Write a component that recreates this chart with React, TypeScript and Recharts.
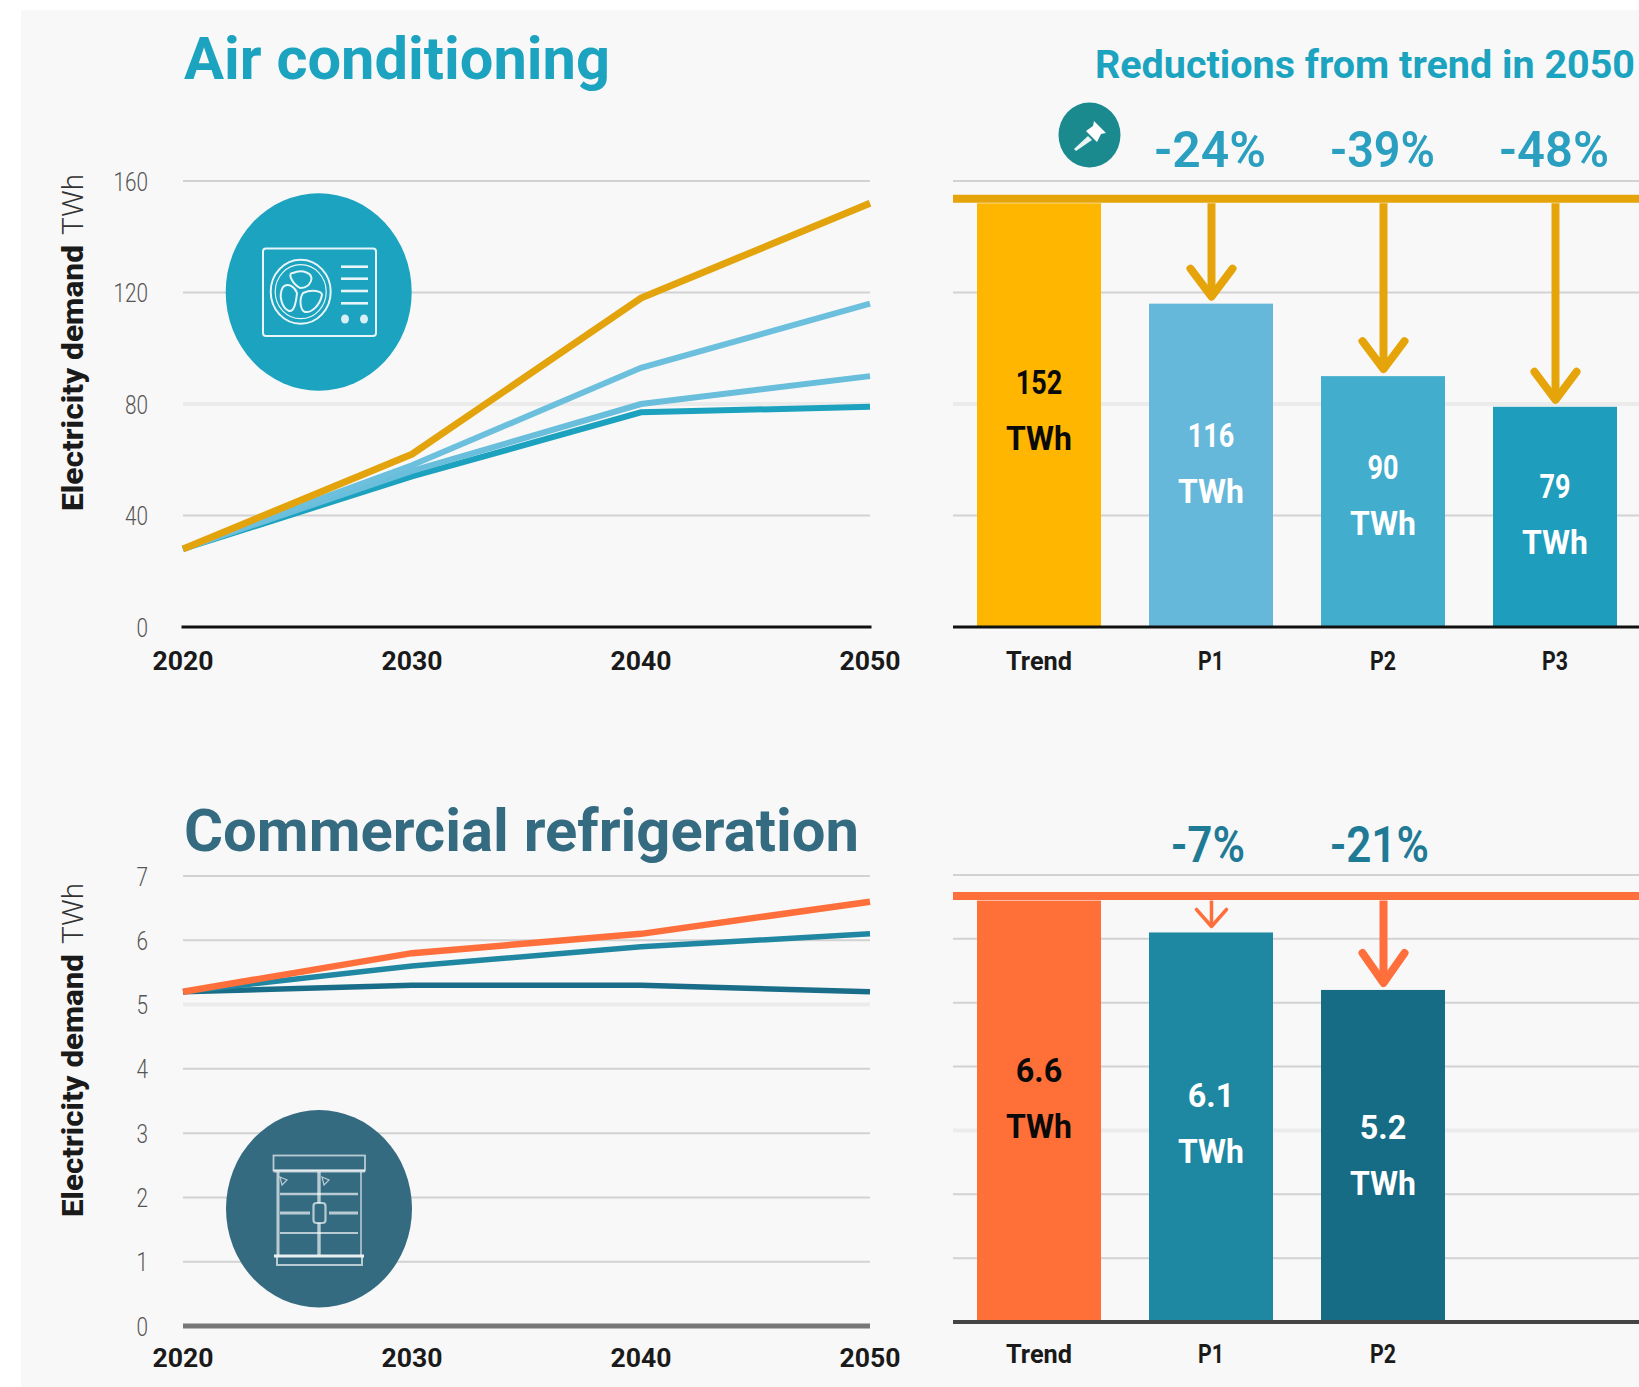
import React from 'react';
import { LineChart, Line, BarChart, Bar, XAxis, YAxis, CartesianGrid, ReferenceLine, LabelList } from 'recharts';

// ---------- data ----------
const years = [2020, 2030, 2040, 2050];
const acTrend = [28, 62, 118, 152];
const acP1 = [28, 58, 93, 116];
const acP2 = [28, 56, 80, 90];
const acP3 = [28, 54, 77, 79];
const acTicks = [0, 40, 80, 120, 160];

const frTrend = [5.2, 5.8, 6.1, 6.6];
const frP1 = [5.2, 5.6, 5.9, 6.1];
const frP2 = [5.2, 5.3, 5.3, 5.2];
const frTicks = [0, 1, 2, 3, 4, 5, 6, 7];

const acCategories = ['Trend', 'P1', 'P2', 'P3'];
const acBars = [152, 116, 90, 79];
const frCategories = ['Trend', 'P1', 'P2', ' '];
const frBars = [6.6, 6.1, 5.2, null];

const acReductions = ['-24%', '-39%', '-48%'];
const frReductions = ['-7%', '-21%'];

const FONT = 'Roboto, sans-serif';
const AC_BLUE = '#1ba3bf';
const FR_BLUE = '#346b80';

const lineTable = (series: Record<string, number[]>) =>
  years.map((year, i) => {
    const row: Record<string, number> = { year };
    Object.keys(series).forEach((k) => (row[k] = series[k][i]));
    return row;
  });
const barTable = (cats: string[], vals: (number | null)[]) => cats.map((name, i) => ({ name, value: vals[i] }));

// ---------- small helpers ----------
const Txt = ({ x, y, len, size, weight = 700, fill = '#111', anchor = 'start', children, transform }: any) => (
  <text
    x={x}
    y={y}
    fontFamily={FONT}
    fontSize={size}
    fontWeight={weight}
    fill={fill}
    textAnchor={anchor}
    textLength={len}
    lengthAdjust="spacingAndGlyphs"
    transform={transform}
  >
    {children}
  </text>
);

const YTick = ({ x, y, payload }: any) => {
  const s = String(payload.value);
  return (
    <Txt x={148} y={y + 9.5} len={s.length * 11.5} size={25} weight={300} fill="#555" anchor="end">
      {s}
    </Txt>
  );
};

const XTick = ({ x, y, payload, shift = 41 }: any) => {
  const s = String(payload.value);
  if (!s.trim()) return null;
  const len = s.length === 4 && /\d/.test(s) ? 61 : s.length === 2 ? 26 : 66;
  return (
    <Txt x={x} y={y + shift} len={len} size={25} weight={700} fill="#1a1a1a" anchor="middle">
      {s}
    </Txt>
  );
};

const grid = (faintIndex: number) => (p: any) => {
  const faint = p.index === faintIndex;
  return (
    <line
      key={p.key ?? p.index}
      x1={p.x1}
      x2={p.x2}
      y1={p.y1}
      y2={p.y2}
      stroke={faint ? '#ebebeb' : '#d2d2d2'}
      strokeWidth={faint ? 4 : 2}
    />
  );
};

// ---------- bar shape with its reduction arrow ----------
const barShape = (colors: string[], arrowColor: string, trend: number, arrows: any[]) => (p: any) => {
  const { x, y, width, height, index, value } = p;
  const v = Array.isArray(value) ? value[1] : value;
  if (v == null || !height) return <g />;
  const unit = height / v;
  const lineY = y - (trend - v) * unit;
  const cx = x + width / 2 + 0.5;
  const a = arrows[index];
  return (
    <g>
      <rect x={x} y={y} width={width} height={height} fill={colors[index]} />
      {a && (
        <g stroke={arrowColor} strokeWidth={a.sw} fill="none" strokeLinecap="round" strokeLinejoin="round">
          <line x1={cx} y1={lineY} x2={cx} y2={y - a.gap - 1} strokeLinecap="butt" />
          <polyline
            points={`${cx - a.hw},${y - a.gap - a.hh} ${cx},${y - a.gap - 1} ${cx + a.hw},${y - a.gap - a.hh}`}
          />
        </g>
      )}
    </g>
  );
};

const barLabel = (shifts: number[]) => (p: any) => {
  const { x, y, width, height, value, index } = p;
  if (value == null) return null;
  const cx = x + width / 2;
  const cy = y + height / 2 + shifts[index];
  const fill = index === 0 ? '#0a0a0a' : '#ffffff';
  const s = String(value);
  return (
    <g>
      <Txt x={cx} y={cy - 19} len={s.length * 15.5} size={34} weight={700} fill={fill} anchor="middle">
        {s}
      </Txt>
      <Txt x={cx} y={cy + 37} len={66} size={34} weight={700} fill={fill} anchor="middle">
        TWh
      </Txt>
    </g>
  );
};

const trendLine = (color: string) => (p: any) => (
  <line x1={p.x1} x2={p.x2 + 4} y1={p.y1 - 4.5} y2={p.y2 - 4.5} stroke={color} strokeWidth={8} />
);

// ---------- icons ----------
const AcIcon = () => (
  <g>
    <ellipse cx={318.7} cy={292} rx={93} ry={98.7} fill={AC_BLUE} />
    <g stroke="#e8f6f9" fill="none" strokeWidth={2}>
      <rect x={263} y={248.5} width={113} height={87.5} rx={3} />
      <ellipse cx={300.7} cy={291.7} rx={30} ry={32} />
      <ellipse cx={300.7} cy={291.7} rx={25.5} ry={27} strokeWidth={1.2} />
      <path d="M300 288 C290 282 288 272 293 273 C302 269 314 273 311 281 C309 286 305 288 300 288 Z" />
      <path d="M303 293 C312 289 322 291 322 295 C320 305 312 313 305 312 C300 310 299 299 303 293 Z" />
      <path d="M297 293 C296 303 294 312 289 311 C282 308 278 296 283 287 C288 282 295 287 297 293 Z" />
      <line x1={341} x2={368} y1={266.7} y2={266.7} strokeWidth={2.6} />
      <line x1={341} x2={368} y1={278.7} y2={278.7} strokeWidth={2.6} />
      <line x1={341} x2={368} y1={291} y2={291} strokeWidth={2.6} />
      <line x1={341} x2={368} y1={303.3} y2={303.3} strokeWidth={2.6} />
    </g>
    <ellipse cx={345} cy={319} rx={4} ry={4.5} fill="#d8f0f5" />
    <ellipse cx={364} cy={319} rx={4} ry={4.5} fill="#d8f0f5" />
  </g>
);

const FridgeIcon = () => (
  <g>
    <ellipse cx={319} cy={1208.7} rx={93} ry={98.7} fill={FR_BLUE} />
    <g stroke="#ffffff" strokeOpacity={0.65} fill="none" strokeWidth={1.8}>
      <rect x={273.5} y={1155.5} width={91.5} height={15} />
      <line x1={273.5} x2={365} y1={1171} y2={1171} strokeWidth={3} />
      <line x1={278} x2={278} y1={1172} y2={1255} strokeWidth={3} />
      <line x1={361} x2={361} y1={1172} y2={1255} strokeWidth={1.6} />
      <line x1={319} x2={319} y1={1172} y2={1255} strokeWidth={3.4} />
      <line x1={280} x2={358} y1={1194} y2={1194} strokeWidth={2.6} />
      <line x1={280} x2={310} y1={1213} y2={1213} strokeWidth={3} />
      <line x1={329} x2={358} y1={1213} y2={1213} strokeWidth={3} />
      <line x1={280} x2={358} y1={1233} y2={1233} strokeWidth={2} />
      <rect x={313.5} y={1203} width={12} height={20} rx={3} fill={FR_BLUE} strokeWidth={2.2} />
      <line x1={274} x2={364} y1={1256} y2={1256} strokeWidth={3} strokeOpacity={0.9} />
      <path d="M277 1257 L277 1265 L362 1265 L362 1257" strokeWidth={2} />
      <path d="M280 1177 L287 1180 L282 1185 Z" strokeWidth={1.2} />
      <path d="M322 1177 L329 1180 L324 1185 Z" strokeWidth={1.2} />
    </g>
  </g>
);

const PinIcon = () => (
  <g>
    <ellipse cx={1089.5} cy={135} rx={31} ry={32.5} fill="#1b8a8f" />
    <g fill="#ffffff">
      <path d="M1094 121 L1106 133 L1101 134 L1097 142 L1086 131 L1093 126 Z" />
      <path d="M1088 136 L1092 140 L1076 151 L1074 149 Z" opacity={0.9} />
    </g>
  </g>
);

// ---------- App ----------
const acLine = lineTable({ trend: acTrend, p1: acP1, p2: acP2, p3: acP3 });
const frLine = lineTable({ trend: frTrend, p1: frP1, p2: frP2 });
const acBarData = barTable(acCategories, acBars);
const frBarData = barTable(frCategories, frBars);

const heavy = { sw: 8, hw: 21, hh: 29, gap: 6 };
const acArrows = [null, heavy, heavy, heavy];
const frArrows = [null, { sw: 3.5, hw: 15, hh: 18, gap: 5 }, { ...heavy, hh: 31 }, null];

export default function App() {
  return (
    <div style={{ position: 'absolute', left: 0, top: 0, width: 1639, height: 1387, overflow: 'hidden', background: '#fff' }}>
      <div style={{ position: 'absolute', left: 21, top: 10, right: 0, bottom: 0, background: '#f8f8f8' }} />

      {/* Air conditioning: lines */}
      <div style={{ position: 'absolute', left: 0, top: 0 }}>
        <LineChart width={900} height={700} data={acLine} margin={{ top: 181, left: 0, right: 30, bottom: 13 }}>
          <CartesianGrid vertical={false} horizontal={grid(2)} />
          <XAxis
            dataKey="year"
            type="number"
            domain={[2020, 2050]}
            ticks={years}
            height={60}
            tickSize={0}
            tickMargin={0}
            tickLine={false}
            axisLine={{ stroke: '#111', strokeWidth: 3, strokeLinecap: 'square' }}
            tick={<XTick shift={42.5} />}
            interval={0}
          />
          <YAxis width={183} domain={[0, 160]} ticks={acTicks} axisLine={false} tickLine={false} tick={<YTick />} interval={0} />
          <Line dataKey="p3" stroke="#1ca2be" strokeWidth={6} dot={false} isAnimationActive={false} />
          <Line dataKey="p2" stroke="#68bedb" strokeWidth={6} dot={false} isAnimationActive={false} />
          <Line dataKey="p1" stroke="#6cc0de" strokeWidth={6} dot={false} isAnimationActive={false} />
          <Line dataKey="trend" stroke="#e3a30c" strokeWidth={7} dot={false} isAnimationActive={false} />
        </LineChart>
      </div>

      {/* Air conditioning: bars */}
      <div style={{ position: 'absolute', left: 900, top: 0 }}>
        <BarChart width={741} height={700} data={acBarData} margin={{ top: 181, left: 53, right: 0, bottom: 13 }}>
          <CartesianGrid vertical={false} horizontal={grid(2)} />
          <XAxis
            dataKey="name"
            height={60}
            tickSize={0}
            tickMargin={0}
            tickLine={false}
            axisLine={{ stroke: '#111', strokeWidth: 3 }}
            tick={<XTick shift={42.5} />}
            interval={0}
          />
          <YAxis hide domain={[0, 160]} ticks={acTicks} />
          <ReferenceLine y={acBars[0]} shape={trendLine('#e5a50a')} />
          <Bar
            dataKey="value"
            barSize={124}
            isAnimationActive={false}
            shape={barShape(['#ffb600', '#66b8da', '#42adcd', '#1e9dbd'], '#e5a50a', acBars[0], acArrows)}
          >
            <LabelList dataKey="value" content={barLabel([-2, 1, -4, 0])} />
          </Bar>
        </BarChart>
      </div>

      {/* Commercial refrigeration: lines */}
      <div style={{ position: 'absolute', left: 0, top: 800 }}>
        <LineChart width={900} height={587} data={frLine} margin={{ top: 76, left: 0, right: 30, bottom: 11 }}>
          <CartesianGrid vertical={false} horizontal={grid(5)} />
          <XAxis
            dataKey="year"
            type="number"
            domain={[2020, 2050]}
            ticks={years}
            height={50}
            tickSize={0}
            tickMargin={0}
            tickLine={false}
            axisLine={{ stroke: '#777', strokeWidth: 5, strokeLinecap: 'butt' }}
            tick={<XTick />}
            interval={0}
          />
          <YAxis width={183} domain={[0, 7]} ticks={frTicks} axisLine={false} tickLine={false} tick={<YTick />} interval={0} />
          <Line dataKey="p2" stroke="#1a6d88" strokeWidth={5.5} dot={false} isAnimationActive={false} />
          <Line dataKey="p1" stroke="#1f87a1" strokeWidth={5.5} dot={false} isAnimationActive={false} />
          <Line dataKey="trend" stroke="#ff6f3c" strokeWidth={6.5} dot={false} isAnimationActive={false} />
        </LineChart>
      </div>

      {/* Commercial refrigeration: bars */}
      <div style={{ position: 'absolute', left: 900, top: 800 }}>
        <BarChart width={741} height={587} data={frBarData} margin={{ top: 75, left: 53, right: 0, bottom: 5 }}>
          <CartesianGrid vertical={false} horizontal={grid(3)} />
          <XAxis
            dataKey="name"
            height={60}
            tickSize={0}
            tickMargin={0}
            tickLine={false}
            axisLine={{ stroke: '#444', strokeWidth: 4 }}
            tick={<XTick />}
            interval={0}
          />
          <YAxis hide domain={[0, 7]} ticks={frTicks} />
          <ReferenceLine y={frBars[0] as number} shape={trendLine('#ff6f3c')} />
          <Bar
            dataKey="value"
            barSize={124}
            isAnimationActive={false}
            shape={barShape(['#ff7039', '#1e87a1', '#166c85', '#166c85'], '#ff6f3c', frBars[0] as number, frArrows)}
          >
            <LabelList dataKey="value" content={barLabel([-10, -1, 2, 0])} />
          </Bar>
        </BarChart>
      </div>

      {/* titles, annotations and pictograms */}
      <svg width={1639} height={1387} style={{ position: 'absolute', left: 0, top: 0, pointerEvents: 'none' }}>
        <Txt x={184} y={79} len={426} size={60} weight={700} fill={AC_BLUE}>Air conditioning</Txt>
        <Txt x={184} y={851} len={675} size={60} weight={700} fill={FR_BLUE}>Commercial refrigeration</Txt>
        <Txt x={1095} y={78} len={540} size={39} weight={700} fill={AC_BLUE}>Reductions from trend in 2050</Txt>

        <Txt x={1154} y={167} len={112} size={50} weight={600} fill="#2a9fbf">{acReductions[0]}</Txt>
        <Txt x={1330} y={167} len={105} size={50} weight={600} fill="#2a9fbf">{acReductions[1]}</Txt>
        <Txt x={1499} y={167} len={110} size={50} weight={600} fill="#2a9fbf">{acReductions[2]}</Txt>
        <Txt x={1171} y={862} len={74} size={50} weight={600} fill="#1f7a95">{frReductions[0]}</Txt>
        <Txt x={1330} y={862} len={99} size={50} weight={600} fill="#1f7a95">{frReductions[1]}</Txt>

        {[
          { base: 511, split: 245 },
          { base: 1217, split: 954 },
        ].map((t, i) => (
          <g key={i}>
            <Txt x={0} y={0} len={t.base - t.split} size={30} weight={800} fill="#1a1a1a" transform={`translate(83 ${t.base}) rotate(-90)`}>
              Electricity demand
            </Txt>
            <Txt x={0} y={0} len={61} size={30} weight={300} fill="#333" transform={`translate(83 ${t.split - 10}) rotate(-90)`}>
              TWh
            </Txt>
          </g>
        ))}

        <AcIcon />
        <FridgeIcon />
        <PinIcon />
      </svg>
    </div>
  );
}
